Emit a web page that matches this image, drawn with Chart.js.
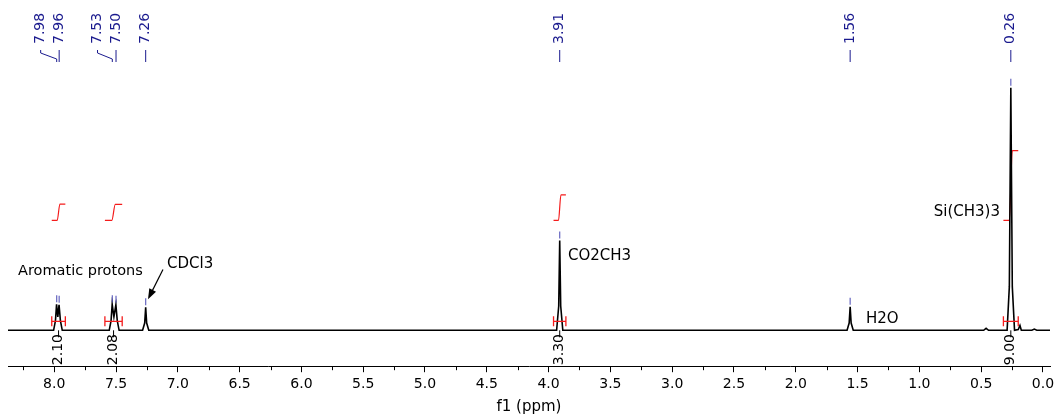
<!DOCTYPE html>
<html>
<head>
<meta charset="utf-8">
<script src="https://cdn.jsdelivr.net/npm/chart.js@4/dist/chart.umd.min.js"></script>
<style>
    html, body { margin: 0; padding: 0; background: #fff; }
    #spectrum { display: block; }
</style>
</head>
<body>
<canvas id="spectrum" width="1060" height="415"></canvas>
<script>
// 1H NMR trace. Intensity scale: TMS singlet = 100
const spectrumPpm = [
    8.40,
    8.005, 7.99, 7.981, 7.971, 7.961, 7.95, 7.935,
    7.555, 7.54, 7.531, 7.517, 7.501, 7.49, 7.475,
    7.285, 7.268, 7.26, 7.252, 7.235,
    3.935, 3.918, 3.91, 3.902, 3.885,
    1.585, 1.568, 1.56, 1.552, 1.535,
    0.48, 0.46, 0.44,
    0.29, 0.272, 0.26, 0.248, 0.23, 0.20, 0.186, 0.175,
    0.09, 0.07, 0.05,
    -0.06
];
const spectrumIntensity = [
    0,
    0, 4, 10.7, 5.5, 10.5, 4, 0,
    0, 4, 10.7, 5.5, 10.5, 4, 0,
    0, 3, 9.5, 3, 0,
    0, 10, 37, 10, 0,
    0, 3, 9.7, 3, 0,
    0, 0.8, 0,
    0, 18, 100, 18, 0, 0.3, 2, 0,
    0, 0.5, 0,
    0
];

// picked peaks
const peakPpm = [7.98, 7.96, 7.53, 7.50, 7.26, 3.91, 1.56, 0.26];
const peakHeight = [10.7, 10.5, 10.7, 10.5, 9.5, 37, 9.7, 100];

// integration regions
const integralFrom = [8.02, 7.59, 3.96, 0.32];
const integralTo = [7.91, 7.45, 3.86, 0.20];
const integralValue = [2.10, 2.08, 3.30, 9.00];

// axis
const axisMin = -0.057;
const axisMax = 8.374;
const tickStep = 0.25;

// assignments
const noteText = ['Aromatic protons', 'CDCl3', 'CO2CH3', 'H2O', 'Si(CH3)3'];

// ---- layout / style ----
const FONT = '"DejaVu Sans", Verdana, sans-serif';
const LABEL_BLUE = '#1a1a8e';
const RED = '#f41c1c';
const INTEGRAL_BASE = 45.3;   // where the integral curves start (intensity units)
const INTEGRAL_SCALE = 3.2;   // curve rise per H
const notePlace = [
    { ppm: 8.293, y: 24.3, align: 'left', size: 14.5 },
    { ppm: 7.087, y: 27.2, align: 'left', size: 15 },
    { ppm: 3.843, y: 30.5, align: 'left', size: 15 },
    { ppm: 1.432, y: 4.5, align: 'left', size: 15 },
    { ppm: 0.348, y: 48.6, align: 'right', size: 15 }
];
const arrowFrom = { ppm: 7.12, y: 25.1 };
const arrowTo = { ppm: 7.241, y: 12.8 };

function isMajor(v) {
    return Math.abs(v * 2 - Math.round(v * 2)) < 1e-6;
}

function rotatedText(ctx, text, x, yBottom) {
    ctx.save();
    ctx.translate(x, yBottom);
    ctx.rotate(-Math.PI / 2);
    ctx.textAlign = 'left';
    ctx.textBaseline = 'middle';
    ctx.fillText(text, 0, 0);
    ctx.restore();
}

const overlayPlugin = {
    id: 'nmrOverlay',
    afterDatasetsDraw(chart) {
        const ctx = chart.ctx;
        const xs = chart.scales.x;
        const ys = chart.scales.y;
        const area = chart.chartArea;
        const baseY = ys.getPixelForValue(0);

        ctx.save();

        // minor ticks
        ctx.strokeStyle = '#000';
        ctx.lineWidth = 1;
        xs.ticks.forEach(t => {
            if (isMajor(t.value)) return;
            const px = Math.round(xs.getPixelForValue(t.value)) + 0.5;
            ctx.beginPath();
            ctx.moveTo(px, area.bottom);
            ctx.lineTo(px, area.bottom + 4);
            ctx.stroke();
        });

        // peak labels along the top, pushed left when crowded
        const order = peakPpm.map((p, i) => i).sort((a, b) => peakPpm[a] - peakPpm[b]);
        let prev = Infinity;
        ctx.font = '14px ' + FONT;
        ctx.fillStyle = LABEL_BLUE;
        ctx.strokeStyle = LABEL_BLUE;
        order.forEach(i => {
            const px = xs.getPixelForValue(peakPpm[i]);
            const lx = Math.min(px, prev - 18.5);
            prev = lx;
            rotatedText(ctx, peakPpm[i].toFixed(2), lx, 44);
            ctx.lineWidth = 1;
            ctx.beginPath();
            ctx.moveTo(lx, 50);
            ctx.lineTo(lx, 53);
            ctx.lineTo(px, 59);
            ctx.lineTo(px, 62);
            ctx.stroke();

            // marker over the peak
            const top = ys.getPixelForValue(peakHeight[i]);
            ctx.save();
            ctx.strokeStyle = 'rgba(50,50,170,0.75)';
            ctx.lineWidth = 1.2;
            ctx.beginPath();
            ctx.moveTo(px, top - 9);
            ctx.lineTo(px, top - 2);
            ctx.stroke();
            ctx.restore();
        });

        // integration brackets and values
        integralValue.forEach((val, i) => {
            const x1 = xs.getPixelForValue(integralFrom[i]);
            const x2 = xs.getPixelForValue(integralTo[i]);
            const yb = ys.getPixelForValue(3.7);
            ctx.strokeStyle = RED;
            ctx.lineWidth = 1.3;
            ctx.beginPath();
            ctx.moveTo(x1, yb); ctx.lineTo(x2, yb);
            ctx.moveTo(x1, yb - 5); ctx.lineTo(x1, yb + 5);
            ctx.moveTo(x2, yb - 5); ctx.lineTo(x2, yb + 5);
            ctx.stroke();

            const cx = xs.getPixelForValue((integralFrom[i] + integralTo[i]) / 2);
            ctx.strokeStyle = '#000';
            ctx.lineWidth = 1;
            ctx.beginPath();
            ctx.moveTo(cx, baseY);
            ctx.lineTo(cx, baseY + 7);
            ctx.stroke();
            ctx.fillStyle = '#000';
            ctx.font = '14px ' + FONT;
            rotatedText(ctx, val.toFixed(2), cx, area.bottom - 1);
        });

        // assignments
        ctx.fillStyle = '#000';
        ctx.textBaseline = 'middle';
        noteText.forEach((t, i) => {
            const p = notePlace[i];
            ctx.font = p.size + 'px ' + FONT;
            ctx.textAlign = p.align;
            ctx.fillText(t, xs.getPixelForValue(p.ppm), ys.getPixelForValue(p.y));
        });

        // arrow to the solvent peak
        const ax1 = xs.getPixelForValue(arrowFrom.ppm), ay1 = ys.getPixelForValue(arrowFrom.y);
        const ax2 = xs.getPixelForValue(arrowTo.ppm), ay2 = ys.getPixelForValue(arrowTo.y);
        const ang = Math.atan2(ay2 - ay1, ax2 - ax1);
        ctx.strokeStyle = '#000';
        ctx.lineWidth = 1.2;
        ctx.beginPath();
        ctx.moveTo(ax1, ay1);
        ctx.lineTo(ax2 - 8 * Math.cos(ang), ay2 - 8 * Math.sin(ang));
        ctx.stroke();
        ctx.beginPath();
        ctx.moveTo(ax2, ay2);
        ctx.lineTo(ax2 - 11 * Math.cos(ang - 0.35), ay2 - 11 * Math.sin(ang - 0.35));
        ctx.lineTo(ax2 - 11 * Math.cos(ang + 0.35), ay2 - 11 * Math.sin(ang + 0.35));
        ctx.closePath();
        ctx.fillStyle = '#000';
        ctx.fill();

        ctx.restore();
    }
};

document.addEventListener('DOMContentLoaded', function() {
    const trace = spectrumPpm.map((p, i) => ({ x: p, y: spectrumIntensity[i] }));

    const integralSets = integralValue.map((val, i) => {
        const span = integralFrom[i] - integralTo[i];
        const top = INTEGRAL_BASE + val * INTEGRAL_SCALE;
        return {
            data: [
                { x: integralFrom[i], y: INTEGRAL_BASE },
                { x: integralFrom[i] - span * 0.4, y: INTEGRAL_BASE },
                { x: integralFrom[i] - span * 0.6, y: top },
                { x: integralTo[i], y: top }
            ],
            borderColor: RED,
            borderWidth: 1.2,
            pointRadius: 0,
            cubicInterpolationMode: 'monotone'
        };
    });

    new Chart(document.getElementById('spectrum'), {
        type: 'line',
        data: {
            datasets: [{
                data: trace,
                borderColor: '#000',
                borderWidth: 1.6,
                pointRadius: 0,
                tension: 0
            }].concat(integralSets)
        },
        options: {
            responsive: false,
            animation: false,
            layout: { padding: { left: 8, right: 10, top: 0, bottom: -1 } },
            plugins: {
                legend: { display: false },
                tooltip: { enabled: false }
            },
            scales: {
                x: {
                    type: 'linear',
                    reverse: true,
                    min: axisMin,
                    max: axisMax,
                    border: { display: true, color: '#000', width: 1 },
                    grid: {
                        drawOnChartArea: false,
                        tickLength: 6,
                        color: ctx => (ctx.tick && isMajor(ctx.tick.value)) ? '#000' : 'rgba(0,0,0,0)'
                    },
                    ticks: {
                        stepSize: tickStep,
                        includeBounds: false,
                        autoSkip: false,
                        maxRotation: 0,
                        padding: 4,
                        color: '#000',
                        font: { family: FONT, size: 14 },
                        callback: v => isMajor(v) ? v.toFixed(1) : ''
                    },
                    title: {
                        display: true,
                        text: 'f1 (ppm)',
                        color: '#000',
                        font: { family: FONT, size: 15 },
                        padding: { top: 1, bottom: 0 }
                    }
                },
                y: { display: false, min: -14.8, max: 136.2 }
            }
        },
        plugins: [overlayPlugin]
    });
});
</script>
</body>
</html>
